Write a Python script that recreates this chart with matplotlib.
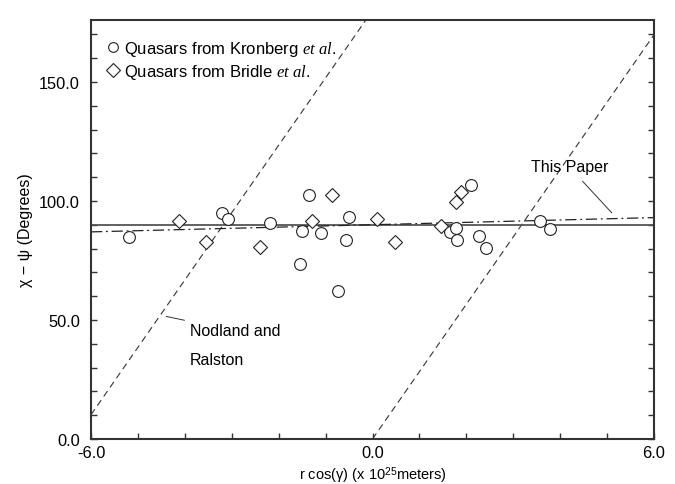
import numpy as np
import matplotlib
matplotlib.use('Agg')
import matplotlib.pyplot as plt
from matplotlib.lines import Line2D
from matplotlib.ticker import MultipleLocator, FormatStrFormatter

plt.rcParams['font.family'] = ['Liberation Sans', 'DejaVu Sans']
plt.rcParams['mathtext.fontset'] = 'custom'
plt.rcParams['mathtext.rm'] = 'Liberation Sans'
plt.rcParams['mathtext.it'] = 'Liberation Serif:italic'

# --- data ---
kron_x = [-5.19, -3.20, -3.08, -2.19, -1.51, -1.35, -1.09, -1.54, -0.73, -0.56,
          -0.50, 1.65, 1.79, 1.81, 2.09, 2.26, 2.42, 3.57, 3.79]
kron_y = [84.7, 94.8, 92.4, 90.6, 87.5, 102.5, 86.6, 73.5, 62.3, 83.6,
          93.4, 86.8, 88.5, 83.6, 106.7, 85.4, 80.4, 91.5, 88.2]

bridle_x = [-4.12, -3.55, -2.39, -1.30, -0.87, 0.10, 0.47, 1.46, 1.79, 1.88]
bridle_y = [91.5, 82.6, 80.5, 91.5, 102.5, 92.4, 82.6, 89.4, 99.4, 103.7]

mean_angle = 90.0           # horizontal reference
fit_intercept, fit_slope = 90.0, 0.5   # "This Paper"
nr_slope = 28.3             # Nodland and Ralston, wraps mod 180
x_min, x_max = -6.0, 6.0
y_max = 176.0

fig = plt.figure(figsize=(6.75, 4.85), dpi=100)
ax = fig.add_axes([91/675, 1-440/485, (654-91)/675, (440-21)/485])

# Nodland & Ralston sawtooth (two branches)
xa = np.array([x_min, (y_max - 180.0) / nr_slope])
ax.plot(xa, nr_slope * xa + 180.0, color='#333333', lw=0.8, dashes=(6, 4))
xb = np.array([0.0, x_max])
ax.plot(xb, nr_slope * xb, color='#333333', lw=0.8, dashes=(6, 4))

# horizontal line at 90
ax.plot([x_min, x_max], [mean_angle, mean_angle], color='#555555', lw=1.3)

# this paper fit
xf = np.array([x_min, x_max])
ax.plot(xf, fit_intercept + fit_slope * xf, color='#222222', lw=0.9,
        dashes=(9, 3, 1.5, 3))

ax.plot(kron_x, kron_y, 'o', ms=8.5, mfc='white', mec='#222222', mew=0.8)
ax.plot(bridle_x, bridle_y, 'D', ms=7.5, mfc='white', mec='#222222', mew=0.8)

# annotations
fs_ann = 11.5
ax.annotate('Nodland and', xy=(-4.4, 51.5), xytext=(-3.89, 45.4),
            fontsize=fs_ann, va='center',
            arrowprops=dict(arrowstyle='-', color='#333333', lw=0.7,
                            shrinkA=2, shrinkB=0))
ax.text(-3.89, 33.6, 'Ralston', fontsize=fs_ann, va='center')
ax.annotate('This Paper', xy=(5.1, 95.0), xytext=(3.37, 114.3),
            fontsize=fs_ann, va='center',
            arrowprops=dict(arrowstyle='-', color='#333333', lw=0.7,
                            shrinkA=4, shrinkB=0))

handles = [Line2D([], [], marker='o', ls='', ms=7, mfc='white', mec='#222222', mew=0.8),
           Line2D([], [], marker='D', ls='', ms=7, mfc='white', mec='#222222', mew=0.8)]
labels = [r'Quasars from Kronberg $\mathit{et\ al.}$',
          r'Quasars from Bridle $\mathit{et\ al.}$']
ax.legend(handles, labels, loc='upper left', bbox_to_anchor=(0.0, 0.99),
          frameon=False, fontsize=12, handlelength=0.8, handletextpad=0.3,
          labelspacing=0.2, borderaxespad=0.5)

ax.set_xlim(x_min, x_max)
ax.set_ylim(0, y_max)
ax.xaxis.set_major_locator(MultipleLocator(6.0))
ax.xaxis.set_minor_locator(MultipleLocator(1.0))
ax.yaxis.set_major_locator(MultipleLocator(50.0))
ax.yaxis.set_minor_locator(MultipleLocator(10.0))
ax.xaxis.set_major_formatter(FormatStrFormatter('%.1f'))
ax.yaxis.set_major_formatter(FormatStrFormatter('%.1f'))
ax.tick_params(which='both', direction='in', length=4, width=1.0,
               right=True, top=False, labelsize=11.8, colors='#333333',
               labelcolor='black')
ax.tick_params(axis='y', which='major', pad=8)
ax.tick_params(axis='x', which='major', pad=4.5)
for s in ax.spines.values():
    s.set_linewidth(1.5)
    s.set_color('#333333')

ax.set_xlabel(r'r cos(γ) (x 10$^{25}$meters)', fontsize=10.5, labelpad=3)
ax.set_ylabel('χ − ψ (Degrees)', fontsize=11.5, labelpad=4)

fig.savefig('out.png', dpi=100)
